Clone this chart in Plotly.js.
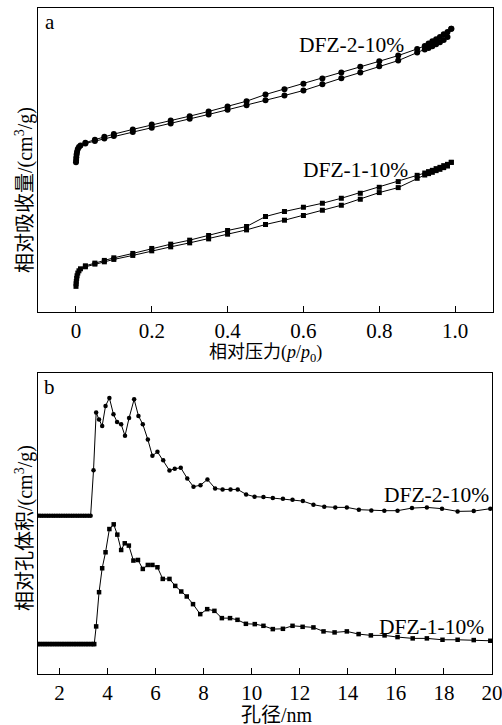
<!DOCTYPE html>
<html>
<head>
<meta charset="utf-8">
<script src="https://cdn.plot.ly/plotly-3.0.1.min.js"></script>
<style>html,body{margin:0;padding:0;background:#fff;}#chart{width:502px;height:725px;}</style>
</head>
<body>
<div id="chart"></div>
<script>
// ---------- Panel a: N2 isotherms (relative pressure vs relative uptake) ----------
var isoAdsP = [0.0002,0.0005,0.001,0.002,0.003,0.005,0.008,0.012,0.025,0.05,0.075,0.10,0.15,0.20,0.25,0.30,0.35,0.40,0.45,0.50,0.55,0.60,0.65,0.70,0.75,0.80,0.85,0.90,0.92,0.93,0.94,0.95,0.96,0.97,0.98,0.99];
var isoDesP = [0.99,0.98,0.97,0.96,0.95,0.94,0.93,0.92,0.90,0.85,0.80,0.75,0.70,0.65,0.60,0.55,0.50,0.45,0.40,0.35,0.30,0.25,0.20,0.15,0.10,0.075,0.05,0.025];

var dfz2Ads = [150.0,152.3,155.0,158.0,160.7,163.3,165.3,167.0,169.0,171.3,174.0,176.3,180.3,184.7,189.0,193.7,198.0,202.7,207.3,212.3,217.0,222.0,228.3,234.3,240.0,246.3,252.0,260.0,263.0,264.7,266.3,268.3,270.3,272.7,275.7,284.0];
var dfz2Des = [284.0,280.7,278.3,275.7,273.3,271.3,269.0,266.7,263.7,257.0,251.3,245.7,240.0,234.0,228.7,223.3,218.0,211.3,206.0,201.0,196.3,192.0,188.0,183.0,178.3,175.7,172.7,169.7];

var dfz1Ads = [25.7,28.3,30.7,33.7,36.3,39.0,41.3,43.3,45.3,48.0,50.3,52.7,56.7,61.3,65.3,69.3,73.3,78.0,82.3,87.7,92.0,96.7,102.0,107.0,113.0,119.7,124.7,134.0,137.3,138.7,140.0,141.7,143.0,144.7,146.3,150.0];
var dfz1Des = [150.0,148.0,146.7,145.0,143.7,142.0,140.7,139.3,137.0,130.7,125.0,119.0,114.0,109.0,105.0,100.7,95.7,85.7,81.7,76.7,72.0,68.0,63.7,58.7,54.3,51.7,49.0,46.3];

var xTickValsA = [0,0.2,0.4,0.6,0.8,1.0];
var xTickTextA = ['0','0.2','0.4','0.6','0.8','1.0'];

// ---------- Panel b: pore size distribution ----------
var psd2X = [1.1,1.2,1.3,1.4,1.5,1.6,1.7,1.8,1.9,2.0,2.1,2.2,2.3,2.4,2.5,2.6,2.7,2.8,2.9,3.0,3.1,3.2,3.3,
  3.42,3.53,3.65,3.78,3.92,4.08,4.25,4.40,4.57,4.73,4.90,5.11,5.29,5.47,5.68,5.87,6.08,6.32,6.58,6.80,7.05,7.32,7.58,7.87,8.16,8.48,8.79,9.12,9.42,9.77,10.12,10.49,10.88,11.30,11.70,12.13,12.57,13.02,13.48,13.96,14.46,14.98,15.52,16.07,16.67,17.29,17.92,18.57,19.24,19.93];
var psd2Y = [158.7,158.7,158.7,158.7,158.7,158.7,158.7,158.7,158.7,158.7,158.7,158.7,158.7,158.7,158.7,158.7,158.7,158.7,158.7,158.7,158.7,158.7,158.7,
  204.3,262.0,255.0,248.7,268.7,276.7,260.3,252.7,250.3,238.7,256.7,275.3,258.7,250.3,235.0,218.7,222.7,214.3,204.0,205.7,206.7,196.0,187.7,189.3,195.0,186.0,185.0,185.0,185.0,180.0,177.7,177.3,176.3,175.7,174.7,173.3,169.7,167.7,167.0,167.0,164.7,164.0,163.7,163.7,166.3,167.0,165.7,163.0,163.3,165.7];

var psd1X = [1.1,1.2,1.3,1.4,1.5,1.6,1.7,1.8,1.9,2.0,2.1,2.2,2.3,2.4,2.5,2.6,2.7,2.8,2.9,3.0,3.1,3.2,3.3,3.4,3.45,
  3.53,3.65,3.78,3.92,4.08,4.26,4.41,4.57,4.72,4.89,5.08,5.27,5.47,5.68,5.87,6.08,6.30,6.58,6.82,7.07,7.30,7.56,7.86,8.15,8.45,8.76,9.10,9.41,9.76,10.13,10.49,10.88,11.30,11.70,12.12,12.57,12.99,13.45,13.96,14.45,14.96,15.53,16.07,16.70,17.29,17.94,18.57,19.24,19.93];
var psd1Y = [30.0,30.0,30.0,30.0,30.0,30.0,30.0,30.0,30.0,30.0,30.0,30.0,30.0,30.0,30.0,30.0,30.0,30.0,30.0,30.0,30.0,30.0,30.0,30.0,30.0,
  47.7,82.0,106.0,122.0,145.3,150.0,139.7,124.3,131.0,128.7,113.7,114.3,105.3,109.3,109.3,107.0,95.3,95.3,88.3,82.7,77.7,70.0,60.0,65.0,63.3,56.0,56.0,54.3,50.3,50.0,48.3,45.0,45.3,48.3,47.3,46.7,42.7,41.7,42.7,40.0,38.7,38.7,37.0,35.7,35.7,34.3,34.3,34.0,33.3];

var xTickValsB = [2,4,6,8,10,12,14,16,18,20];
var xTickTextB = ['2','4','6','8','10','12','14','16','18','20'];

var seriesNames = ['DFZ-2-10%','DFZ-1-10%'];

// ---------- build ----------
var W = 502, H = 725;
function px(x){ return x / W; }
function py(y){ return 1 - y / H; }
var FONT = 'Liberation Serif, Noto Sans CJK SC, serif';
var black = '#000000';

function trace(x, y, sym, size, xa, ya){
  return {x:x, y:y, mode:'lines+markers', xaxis:xa, yaxis:ya,
    line:{color:black, width:1}, marker:{symbol:sym, size:size, color:black},
    showlegend:false, hoverinfo:'skip'};
}

var data = [
  trace(isoAdsP.concat(isoDesP), dfz2Ads.concat(dfz2Des), 'circle', 6, 'x', 'y'),
  trace(isoAdsP.concat(isoDesP), dfz1Ads.concat(dfz1Des), 'square', 5, 'x', 'y'),
  trace(psd2X, psd2Y, 'circle', 4.5, 'x2', 'y2'),
  trace(psd1X, psd1Y, 'square', 4.5, 'x2', 'y2')
];

var axisCommon = {showline:true, linecolor:black, linewidth:1, mirror:true, showgrid:false, zeroline:false,
  ticks:'inside', ticklen:6, tickwidth:1, tickcolor:black, ticklabeloverflow:'allow',
  tickfont:{family:FONT, size:21, color:black}};

function ann(text, x, y, size, angle){
  var a = {text:text, xref:'paper', yref:'paper', x:px(x), y:py(y), xanchor:'center', yanchor:'middle',
    showarrow:false, font:{family:FONT, size:size, color:black}};
  if (angle) a.textangle = angle;
  return a;
}

var layout = {
  width:W, height:H, margin:{l:0, r:0, t:0, b:0}, paper_bgcolor:'#fff', plot_bgcolor:'#fff',
  font:{family:FONT, color:black},
  xaxis: Object.assign({}, axisCommon, {domain:[px(38), px(493)], range:[-0.1, 1.1], anchor:'y',
    tickvals:xTickValsA, ticktext:xTickTextA}),
  yaxis: Object.assign({}, axisCommon, {domain:[py(312), py(8)], range:[0, 304.7], anchor:'x',
    ticks:'', showticklabels:false}),
  xaxis2: Object.assign({}, axisCommon, {domain:[px(38), px(492)], range:[1.11, 20], anchor:'y2',
    tickvals:xTickValsB, ticktext:xTickTextB}),
  yaxis2: Object.assign({}, axisCommon, {domain:[py(674), py(373)], range:[0, 301.7], anchor:'x2',
    ticks:'', showticklabels:false}),
  annotations: [
    ann('a', 50, 22, 21),
    ann('b', 49, 387, 21),
    ann(seriesNames[0], 351, 45, 21.5),
    ann(seriesNames[1], 355, 170, 21.5),
    ann(seriesNames[0], 436, 495, 21.5),
    ann(seriesNames[1], 431, 627, 21.5),
    ann('相对压力(<i>p</i>/<i>p</i><sub>0</sub>)', 265, 353, 18),
    ann('孔径/nm', 277, 715, 20),
    ann('相对吸收量/(cm<sup>3</sup>/g)', 24, 190, 20, -90),
    ann('相对孔体积/(cm<sup>3</sup>/g)', 24, 528, 20, -90)
  ]
};

Plotly.newPlot('chart', data, layout, {staticPlot:true, displayModeBar:false});
</script>
</body>
</html>
